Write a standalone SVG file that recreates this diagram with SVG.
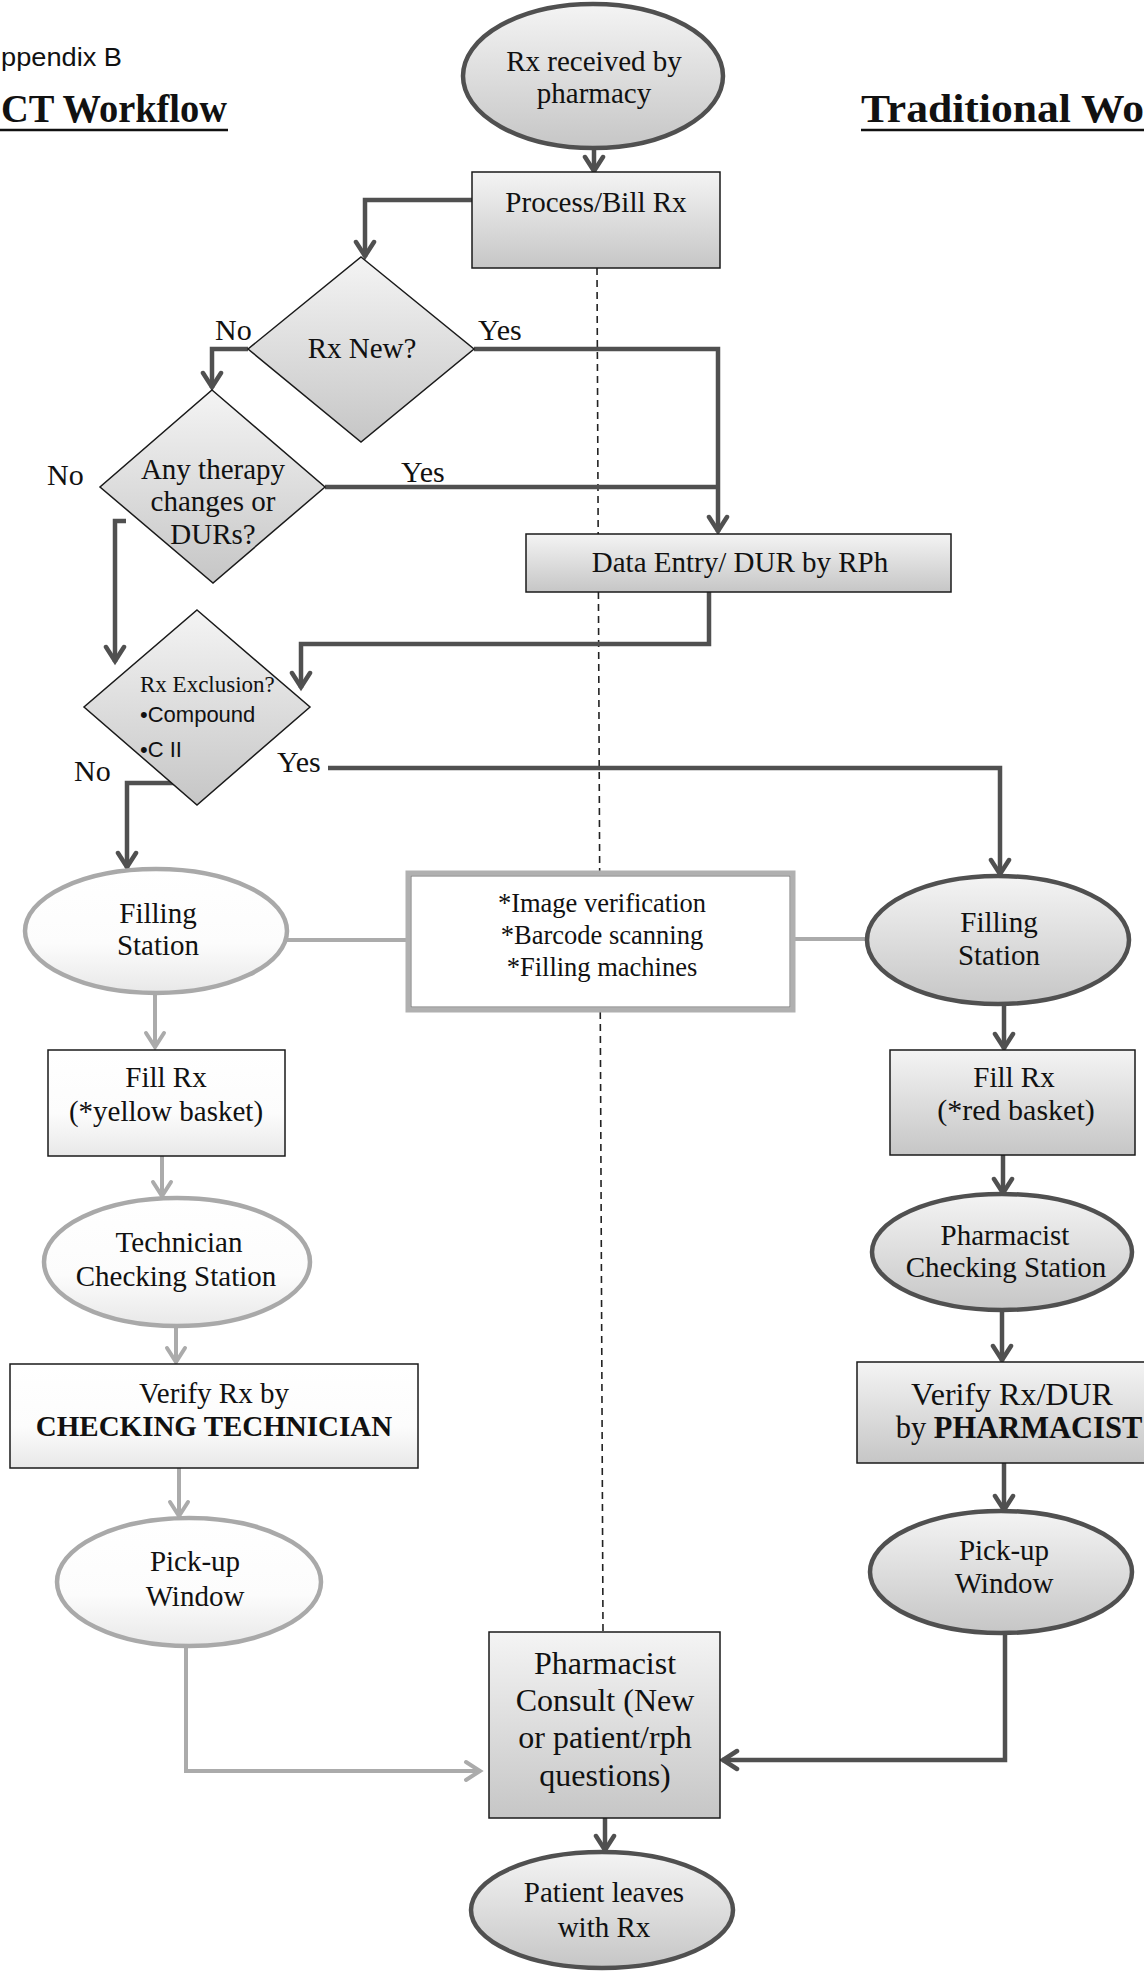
<svg xmlns="http://www.w3.org/2000/svg" width="1144" height="1972" viewBox="0 0 1144 1972">
<style>
.t{font-family:"Liberation Serif","Times New Roman",serif;font-size:29px;fill:#111}
.m{text-anchor:middle}
.b{font-weight:bold}
.sans{font-family:"Liberation Sans",Arial,sans-serif;fill:#111}
.box{stroke:#1a1a1a;stroke-width:1.5}
.dkE{stroke:#505050;stroke-width:4.5}
.ltE{stroke:#a9a9a9;stroke-width:4.5}
.dk{stroke:#505050;stroke-width:4.5;fill:none}
.lt{stroke:#ababab;stroke-width:4;fill:none}
</style>
<defs>
<linearGradient id="gD" x1="0" y1="0" x2="0" y2="1">
<stop offset="0" stop-color="#f4f4f4"/><stop offset="1" stop-color="#c6c6c6"/>
</linearGradient>
<linearGradient id="gL" x1="0" y1="0" x2="0" y2="1">
<stop offset="0" stop-color="#ffffff"/><stop offset="0.6" stop-color="#fcfcfc"/><stop offset="1" stop-color="#e8e8e8"/>
</linearGradient>
<marker id="aD" viewBox="0 0 24 24" markerWidth="24" markerHeight="24" refX="20" refY="12" orient="auto" markerUnits="userSpaceOnUse">
<path d="M5,3 L19,12 L5,21" fill="none" stroke="#505050" stroke-width="4.5" stroke-linecap="round"/>
</marker>
<marker id="aL" viewBox="0 0 24 24" markerWidth="24" markerHeight="24" refX="20" refY="12" orient="auto" markerUnits="userSpaceOnUse">
<path d="M5,3 L19,12 L5,21" fill="none" stroke="#ababab" stroke-width="4" stroke-linecap="round"/>
</marker>
</defs>
<rect width="1144" height="1972" fill="#ffffff"/>

<g id="headers">
<text class="sans" x="1" y="66" style="font-size:25px" textLength="121" lengthAdjust="spacingAndGlyphs">ppendix B</text>
<text class="t b" x="1" y="122" style="font-size:40px" textLength="226" lengthAdjust="spacingAndGlyphs">CT Workflow</text>
<line x1="0" y1="130" x2="228" y2="130" stroke="#111" stroke-width="2.5"/>
<text class="t b" x="861" y="122" style="font-size:40px" textLength="283" lengthAdjust="spacingAndGlyphs">Traditional Wo</text>
<line x1="861" y1="130" x2="1144" y2="130" stroke="#111" stroke-width="2.5"/>
</g>

<line id="divider" x1="597" y1="268" x2="603" y2="1632" stroke="#222" stroke-width="1.6" stroke-dasharray="7 5"/>

<g id="connectors">
<path class="dk" d="M594,148 V172" marker-end="url(#aD)"/>
<path class="dk" d="M472,200 H365 V257" marker-end="url(#aD)"/>
<path class="dk" d="M248,349 H212 V388" marker-end="url(#aD)"/>
<path class="dk" d="M474,349 H718 V532" marker-end="url(#aD)"/>
<path class="dk" d="M325,487 H718"/>
<path class="dk" d="M126,521 H115 V662" marker-end="url(#aD)"/>
<path class="dk" d="M709,592 V644 H301 V688" marker-end="url(#aD)"/>
<path class="dk" d="M328,768 H1000 V875" marker-end="url(#aD)"/>
<path class="dk" d="M181,783 H127 V868" marker-end="url(#aD)"/>
<path class="lt" d="M287,940 H408"/>
<path class="lt" d="M793,939 H868"/>
<path class="lt" d="M155,992 V1048" marker-end="url(#aL)"/>
<path class="lt" d="M162,1156 V1197" marker-end="url(#aL)"/>
<path class="lt" d="M176,1326 V1363" marker-end="url(#aL)"/>
<path class="lt" d="M179,1468 V1517" marker-end="url(#aL)"/>
<path class="lt" d="M186,1646 V1771 H481" marker-end="url(#aL)"/>
<path class="dk" d="M1004,1004 V1049" marker-end="url(#aD)"/>
<path class="dk" d="M1003,1155 V1194" marker-end="url(#aD)"/>
<path class="dk" d="M1002,1310 V1361" marker-end="url(#aD)"/>
<path class="dk" d="M1004,1463 V1511" marker-end="url(#aD)"/>
<path class="dk" d="M1005,1632 V1760 H722" marker-end="url(#aD)"/>
<path class="dk" d="M605,1818 V1851" marker-end="url(#aD)"/>
</g>

<g id="n-received">
<ellipse cx="593" cy="76" rx="130" ry="72" fill="url(#gD)" class="dkE"/>
<text class="t m" x="594" y="71">Rx received by</text>
<text class="t m" x="594" y="103">pharmacy</text>
</g>

<g id="n-process">
<rect x="472" y="172" width="248" height="96" fill="url(#gD)" class="box"/>
<text class="t m" x="596" y="212">Process/Bill Rx</text>
</g>

<g id="n-rxnew">
<polygon points="361,257 474,349 361,442 248,349" fill="url(#gD)" class="box"/>
<text class="t m" x="362" y="358">Rx New?</text>
</g>

<g id="n-therapy">
<polygon points="212,390 325,487 213,583 100,487" fill="url(#gD)" class="box"/>
<text class="t m" x="213" y="479">Any therapy</text>
<text class="t m" x="213" y="511">changes or</text>
<text class="t m" x="213" y="544">DURs?</text>
</g>

<g id="n-dataentry">
<rect x="526" y="534" width="425" height="58" fill="url(#gD)" class="box"/>
<text class="t m" x="740" y="572">Data Entry/ DUR by RPh</text>
</g>

<g id="n-exclusion">
<polygon points="197,610 310,707 197,805 84,707" fill="url(#gD)" class="box"/>
<text class="t" x="140" y="692" style="font-size:23px">Rx Exclusion?</text>
<text class="sans" x="140" y="722" style="font-size:22px">•Compound</text>
<text class="sans" x="140" y="757" style="font-size:22px">•C II</text>
</g>

<g id="labels">
<text class="t" x="215" y="340" style="font-size:30px">No</text>
<text class="t" x="478" y="340" style="font-size:30px">Yes</text>
<text class="t" x="47" y="485" style="font-size:30px">No</text>
<text class="t" x="401" y="482" style="font-size:30px">Yes</text>
<text class="t" x="74" y="781" style="font-size:30px">No</text>
<text class="t" x="277" y="772" style="font-size:30px">Yes</text>
</g>

<g id="n-fill-station-ct">
<ellipse cx="156" cy="931" rx="131" ry="62" fill="url(#gL)" class="ltE"/>
<text class="t m" x="158" y="923">Filling</text>
<text class="t m" x="158" y="955">Station</text>
</g>

<g id="n-automation">
<rect x="408" y="873" width="385" height="137" fill="#ffffff" stroke="#b0b0b0" stroke-width="5"/>
<rect x="411" y="876" width="379" height="131" fill="none" stroke="#777" stroke-width="1"/>
<text class="t m" x="602" y="912" style="font-size:26.5px">*Image verification</text>
<text class="t m" x="602" y="944" style="font-size:26.5px">*Barcode scanning</text>
<text class="t m" x="602" y="976" style="font-size:26.5px">*Filling machines</text>
</g>

<g id="n-fill-station-trad">
<ellipse cx="998" cy="940" rx="131" ry="64" fill="url(#gD)" class="dkE"/>
<text class="t m" x="999" y="932">Filling</text>
<text class="t m" x="999" y="965">Station</text>
</g>

<g id="n-fill-yellow">
<rect x="48" y="1050" width="237" height="106" fill="url(#gL)" class="box"/>
<text class="t m" x="166" y="1087">Fill Rx</text>
<text class="t m" x="166" y="1121">(*yellow basket)</text>
</g>

<g id="n-fill-red">
<rect x="890" y="1050" width="245" height="105" fill="url(#gD)" class="box"/>
<text class="t m" x="1014" y="1087">Fill Rx</text>
<text class="t m" x="1016" y="1120" style="font-size:30px">(*red basket)</text>
</g>

<g id="n-tech-check">
<ellipse cx="177" cy="1262" rx="133" ry="64" fill="url(#gL)" class="ltE"/>
<text class="t m" x="179" y="1252">Technician</text>
<text class="t m" x="176" y="1286">Checking Station</text>
</g>

<g id="n-pharm-check">
<ellipse cx="1002" cy="1252" rx="130" ry="58" fill="url(#gD)" class="dkE"/>
<text class="t m" x="1005" y="1245">Pharmacist</text>
<text class="t m" x="1006" y="1277">Checking Station</text>
</g>

<g id="n-verify-tech">
<rect x="10" y="1364" width="408" height="104" fill="url(#gL)" class="box"/>
<text class="t m" x="214" y="1403">Verify Rx by</text>
<text class="t m b" x="214" y="1436">CHECKING TECHNICIAN</text>
</g>

<g id="n-verify-pharm">
<rect x="857" y="1362" width="340" height="101" fill="url(#gD)" class="box"/>
<text class="t m" x="1012" y="1405" style="font-size:32px">Verify Rx/DUR</text>
<text class="t m" x="1019" y="1438" style="font-size:30.5px">by <tspan class="b">PHARMACIST</tspan></text>
</g>

<g id="n-pickup-ct">
<ellipse cx="189" cy="1582" rx="132" ry="64" fill="url(#gL)" class="ltE"/>
<text class="t m" x="195" y="1571">Pick-up</text>
<text class="t m" x="195" y="1606">Window</text>
</g>

<g id="n-pickup-trad">
<ellipse cx="1001" cy="1572" rx="131" ry="61" fill="url(#gD)" class="dkE"/>
<text class="t m" x="1004" y="1560">Pick-up</text>
<text class="t m" x="1004" y="1593">Window</text>
</g>

<g id="n-consult">
<rect x="489" y="1632" width="231" height="186" fill="url(#gD)" class="box"/>
<text class="t m" x="605" y="1674" style="font-size:32px">Pharmacist</text>
<text class="t m" x="605" y="1711" style="font-size:32px">Consult (New</text>
<text class="t m" x="605" y="1748" style="font-size:32px">or patient/rph</text>
<text class="t m" x="605" y="1786" style="font-size:32px">questions)</text>
</g>

<g id="n-leaves">
<ellipse cx="602" cy="1910" rx="131" ry="58" fill="url(#gD)" class="dkE"/>
<text class="t m" x="604" y="1902">Patient leaves</text>
<text class="t m" x="604" y="1937">with Rx</text>
</g>
</svg>
